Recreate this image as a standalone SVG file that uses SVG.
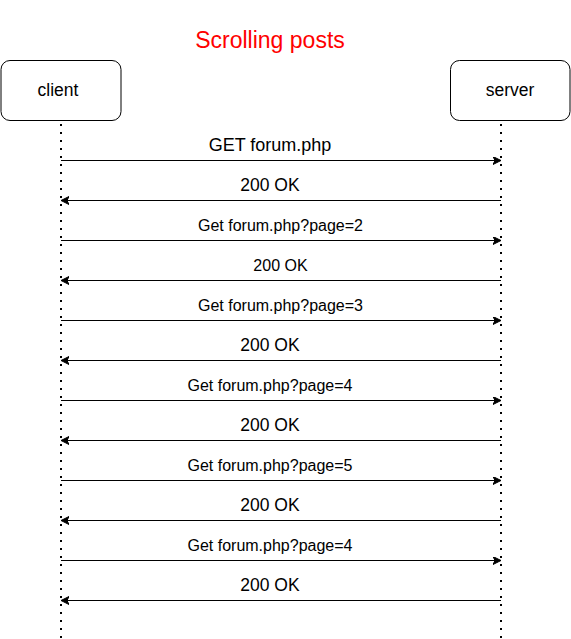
<svg xmlns="http://www.w3.org/2000/svg" width="571" height="639" viewBox="0 0 571 639">
<style>
.box{fill:#fff;stroke:#000;stroke-width:1}
.life{stroke:#000;stroke-width:2;stroke-dasharray:2 6;fill:none}
.msg{stroke:#000;stroke-width:1;fill:none;marker-end:url(#ah)}
text{font-family:"Liberation Sans",Arial,Helvetica,sans-serif;text-anchor:middle;fill:#000}
.node{font-size:17.5px}
.l18{font-size:18px}
.ok{font-size:17.5px}
.l16{font-size:16px}
</style>
<defs>
<marker id="ah" markerWidth="10" markerHeight="10" refX="8" refY="4" orient="auto" markerUnits="userSpaceOnUse">
<path d="M0,0 L8,4 L0,8 L2,4 Z" fill="#000" stroke="#000" stroke-width="1"/>
</marker>
</defs>
<text x="270" y="48" style="font-size:23px;fill:#ff0000">Scrolling posts</text>
<g id="client">
<rect class="box" x="1" y="60.5" width="120" height="60" rx="9"/>
<text class="node" x="58" y="96">client</text>
</g>
<g id="server">
<rect class="box" x="450.5" y="60.5" width="119.5" height="60" rx="9"/>
<text class="node" x="510" y="96">server</text>
</g>
<g id="connectors">
<line class="life" x1="61" y1="124" x2="61" y2="639"/>
<line class="life" x1="501" y1="124" x2="501" y2="639"/>
<line class="msg" x1="61" y1="160.5" x2="501" y2="160.5"/>
<line class="msg" x1="501" y1="200.5" x2="61" y2="200.5"/>
<line class="msg" x1="61" y1="240.5" x2="501" y2="240.5"/>
<line class="msg" x1="501" y1="280.5" x2="61" y2="280.5"/>
<line class="msg" x1="61" y1="320.5" x2="501" y2="320.5"/>
<line class="msg" x1="501" y1="360.5" x2="61" y2="360.5"/>
<line class="msg" x1="61" y1="400.5" x2="501" y2="400.5"/>
<line class="msg" x1="501" y1="440.5" x2="61" y2="440.5"/>
<line class="msg" x1="61" y1="480.5" x2="501" y2="480.5"/>
<line class="msg" x1="501" y1="520.5" x2="61" y2="520.5"/>
<line class="msg" x1="61" y1="560.5" x2="501" y2="560.5"/>
<line class="msg" x1="501" y1="600.5" x2="61" y2="600.5"/>
<text class="l18" x="270" y="151">GET forum.php</text>
<text class="ok" x="270" y="191">200 OK</text>
<text class="l16" x="280.5" y="231">Get forum.php?page=2</text>
<text class="l16" x="280.5" y="271">200 OK</text>
<text class="l16" x="280.5" y="311">Get forum.php?page=3</text>
<text class="ok" x="270" y="351">200 OK</text>
<text class="l16" x="270" y="391">Get forum.php?page=4</text>
<text class="ok" x="270" y="431">200 OK</text>
<text class="l16" x="270" y="471">Get forum.php?page=5</text>
<text class="ok" x="270" y="511">200 OK</text>
<text class="l16" x="270" y="551">Get forum.php?page=4</text>
<text class="ok" x="270" y="591">200 OK</text>
</g>
</svg>
